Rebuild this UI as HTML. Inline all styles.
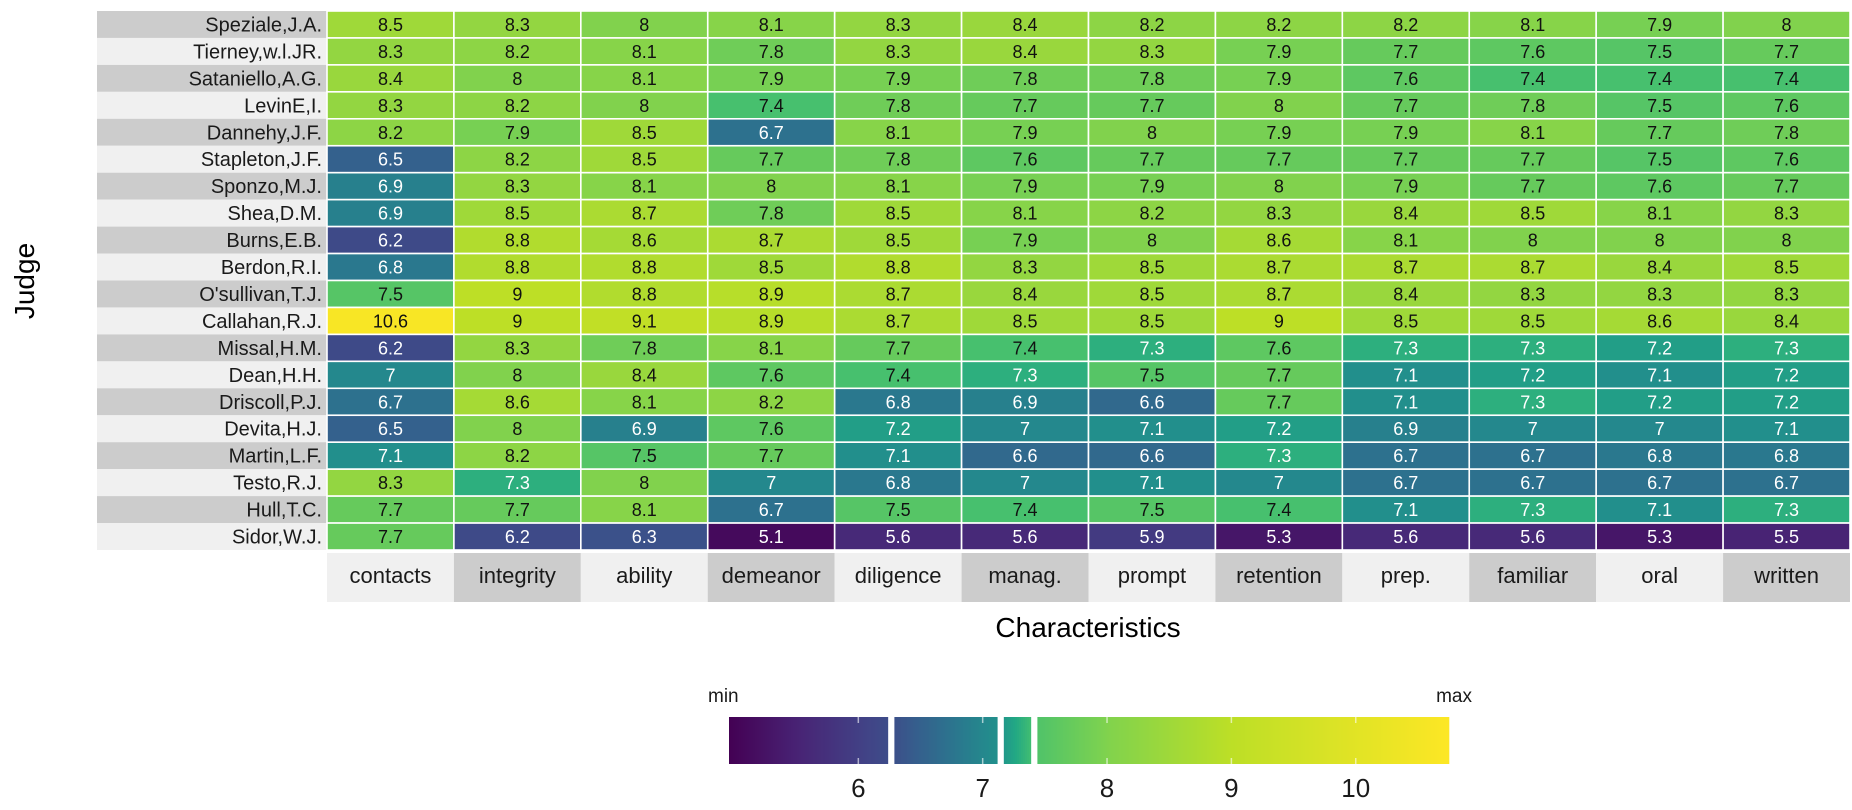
<!DOCTYPE html>
<html><head><meta charset="utf-8">
<style>
body{margin:0;background:#fff;width:1852px;height:805px;overflow:hidden;font-family:"Liberation Sans",sans-serif;}
svg text{font-family:"Liberation Sans",sans-serif;}
</style></head>
<body>
<svg id="chart" width="1852" height="805" xmlns="http://www.w3.org/2000/svg">
<g id="rowlabels"></g>
<g id="collabels"></g>
<g id="cells"></g>
<text x="0" y="0" transform="translate(34,281) rotate(-90)" text-anchor="middle" font-size="28">Judge</text>
<text x="1088" y="637" text-anchor="middle" font-size="28">Characteristics</text>
<g id="legend"></g>
</svg>
<script>
const judges=["Speziale,J.A.","Tierney,w.l.JR.","Sataniello,A.G.","LevinE,I.","Dannehy,J.F.","Stapleton,J.F.","Sponzo,M.J.","Shea,D.M.","Burns,E.B.","Berdon,R.I.","O'sullivan,T.J.","Callahan,R.J.","Missal,H.M.","Dean,H.H.","Driscoll,P.J.","Devita,H.J.","Martin,L.F.","Testo,R.J.","Hull,T.C.","Sidor,W.J."];
const characteristics=["contacts","integrity","ability","demeanor","diligence","manag.","prompt","retention","prep.","familiar","oral","written"];
const values=[
[8.5,8.3,8,8.1,8.3,8.4,8.2,8.2,8.2,8.1,7.9,8],
[8.3,8.2,8.1,7.8,8.3,8.4,8.3,7.9,7.7,7.6,7.5,7.7],
[8.4,8,8.1,7.9,7.9,7.8,7.8,7.9,7.6,7.4,7.4,7.4],
[8.3,8.2,8,7.4,7.8,7.7,7.7,8,7.7,7.8,7.5,7.6],
[8.2,7.9,8.5,6.7,8.1,7.9,8,7.9,7.9,8.1,7.7,7.8],
[6.5,8.2,8.5,7.7,7.8,7.6,7.7,7.7,7.7,7.7,7.5,7.6],
[6.9,8.3,8.1,8,8.1,7.9,7.9,8,7.9,7.7,7.6,7.7],
[6.9,8.5,8.7,7.8,8.5,8.1,8.2,8.3,8.4,8.5,8.1,8.3],
[6.2,8.8,8.6,8.7,8.5,7.9,8,8.6,8.1,8,8,8],
[6.8,8.8,8.8,8.5,8.8,8.3,8.5,8.7,8.7,8.7,8.4,8.5],
[7.5,9,8.8,8.9,8.7,8.4,8.5,8.7,8.4,8.3,8.3,8.3],
[10.6,9,9.1,8.9,8.7,8.5,8.5,9,8.5,8.5,8.6,8.4],
[6.2,8.3,7.8,8.1,7.7,7.4,7.3,7.6,7.3,7.3,7.2,7.3],
[7,8,8.4,7.6,7.4,7.3,7.5,7.7,7.1,7.2,7.1,7.2],
[6.7,8.6,8.1,8.2,6.8,6.9,6.6,7.7,7.1,7.3,7.2,7.2],
[6.5,8,6.9,7.6,7.2,7,7.1,7.2,6.9,7,7,7.1],
[7.1,8.2,7.5,7.7,7.1,6.6,6.6,7.3,6.7,6.7,6.8,6.8],
[8.3,7.3,8,7,6.8,7,7.1,7,6.7,6.7,6.7,6.7],
[7.7,7.7,8.1,6.7,7.5,7.4,7.5,7.4,7.1,7.3,7.1,7.3],
[7.7,6.2,6.3,5.1,5.6,5.6,5.9,5.3,5.6,5.6,5.3,5.5]];
const legendTicks=[6,7,8,9,10];

const NS="http://www.w3.org/2000/svg";
function mk(tag,attrs,parent){const e=document.createElementNS(NS,tag);for(const k in attrs)e.setAttribute(k,attrs[k]);parent.appendChild(e);return e;}
const VIR=["#440154","#482475","#414487","#355f8d","#2a788e","#21918c","#22a884","#44bf70","#7ad151","#bddf26","#fde725"];
function hex(h){return [1,3,5].map(i=>parseInt(h.substr(i,2),16));}
function viridis(t){t=Math.max(0,Math.min(1,t));const p=t*(VIR.length-1),i=Math.min(Math.floor(p),VIR.length-2),f=p-i;const a=hex(VIR[i]),b=hex(VIR[i+1]);return "rgb("+a.map((v,k)=>Math.round(v+(b[k]-v)*f)).join(",")+")";}
const knots=[[4.96,0],[6.24,0.23],[7.12,0.5],[7.42,0.72],[8.0,0.81],[8.5,0.855],[9.0,0.9],[10.75,1]];
function tOf(v){if(v<=knots[0][0])return 0;for(let i=1;i<knots.length;i++){if(v<=knots[i][0]){const[a,ta]=knots[i-1],[b,tb]=knots[i];return ta+(v-a)/(b-a)*(tb-ta);}}return 1;}
const X0=327,X1=1850,Y0=11,Y1=550;
const cw=(X1-X0)/characteristics.length, rh=(Y1-Y0)/judges.length;
const xs=j=>X0+j*cw, ys=i=>Y0+i*rh;
const cells=document.getElementById('cells'),rl=document.getElementById('rowlabels'),cl=document.getElementById('collabels');
judges.forEach((name,i)=>{
  const g=mk('g',{},rl);
  
  
  mk('rect',{x:97,y:ys(i),width:X0-97,height:rh,fill:i%2?"#f0f0f0":"#cccccc"},g);
  const t=mk('text',{x:X0-5,y:ys(i)+rh/2+7,"text-anchor":"end","font-size":20,fill:"#1a1a1a"},g);t.textContent=name;
});
characteristics.forEach((c,j)=>{
  const g=mk('g',{},cl);
  
  
  mk('rect',{x:xs(j),y:553,width:cw,height:49,fill:j%2?"#cccccc":"#f0f0f0"},g);
  const t=mk('text',{x:xs(j)+cw/2,y:583,"text-anchor":"middle","font-size":22,fill:"#1a1a1a"},g);t.textContent=c;
});
values.forEach((row,i)=>row.forEach((v,j)=>{
  const r=mk('rect',{x:xs(j),y:ys(i),width:cw,height:rh,fill:viridis(tOf(v)),stroke:"#fff","stroke-width":1.6},cells);
  
  
  const t=mk('text',{x:xs(j)+cw/2,y:ys(i)+rh/2+6.5,"text-anchor":"middle","font-size":18,fill:v<7.35?"#ffffff":"#111111"},cells);
  
  
  t.textContent=String(v);
}));
const lg=document.getElementById('legend');
const LX0=729,LX1=1449,LV0=4.96,LV1=10.75;
const lx=v=>LX0+(v-LV0)/(LV1-LV0)*(LX1-LX0);
for(let x=LX0;x<LX1;x+=2){const v=LV0+(x-LX0)/(LX1-LX0)*(LV1-LV0);mk('rect',{x:x,y:717,width:2.3,height:47,fill:viridis(tOf(v))},lg);}
[[6.24,6.29],[7.12,7.17],[7.39,7.44]].forEach(g=>{const r=mk('rect',{x:lx(g[0]),y:715,width:lx(g[1])-lx(g[0]),height:51,fill:"#fff"},lg);});
legendTicks.forEach(v=>{
  mk('line',{x1:lx(v),x2:lx(v),y1:717,y2:723,stroke:"#fff","stroke-opacity":0.6,"stroke-width":1.5},lg);
  mk('line',{x1:lx(v),x2:lx(v),y1:758,y2:764,stroke:"#fff","stroke-opacity":0.6,"stroke-width":1.5},lg);
  const t=mk('text',{x:lx(v),y:797,"text-anchor":"middle","font-size":26,fill:"#1a1a1a"},lg);
  
  
  t.textContent=v;
});
const mn=mk('text',{x:708,y:702,"font-size":19,fill:"#1a1a1a"},lg);mn.textContent="min";


const mx=mk('text',{x:1472,y:702,"font-size":19,fill:"#1a1a1a","text-anchor":"end"},lg);mx.textContent="max";


</script>
</body></html>
